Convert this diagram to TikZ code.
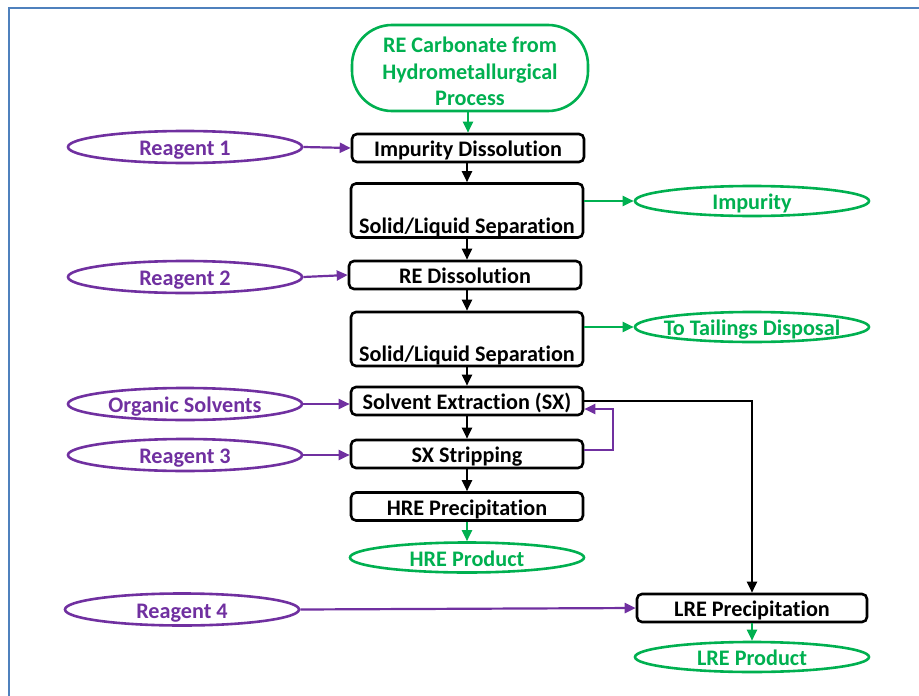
\documentclass[tikz,border=0pt]{standalone}
\usepackage{fontspec}
\setmainfont{Carlito}[Ligatures={NoCommon}]
\usetikzlibrary{shapes.geometric,arrows.meta}
\definecolor{pgreen}{HTML}{00B050}
\definecolor{ppurple}{HTML}{7030A0}
\definecolor{pframe}{HTML}{4F81BD}
% zero-width label so the ellipse keeps its own size
\newcommand{\ovaltext}[1]{\makebox[0pt]{#1}}
\tikzset{
  labelfont/.style={font=\fontsize{22.2}{26.5}\selectfont\bfseries},
  labeltext/.style={labelfont, inner sep=0pt, text height=18pt, text depth=1pt},
  procbox/.style={draw=black, line width=2.6pt, rounded corners=5pt, fill=white,
    minimum width=232pt, minimum height=28pt, labeltext, text=black},
  sepbox/.style={procbox, minimum height=54pt},
  inbox/.style={draw=ppurple, ellipse, line width=2.6pt, labeltext,
    minimum width=234pt, minimum height=32pt, text=ppurple},
  outbox/.style={inbox, draw=pgreen, text=pgreen, minimum height=30pt},
  flow/.style={line width=2.2pt, -{Triangle[length=11pt,width=10pt]}},
  kflow/.style={flow, draw=black},
  pflow/.style={flow, draw=ppurple},
  gflow/.style={flow, draw=pgreen},
}
\begin{document}
\begin{tikzpicture}[x=1pt, y=-1pt]
\useasboundingbox (0,0) rectangle (919,696);
% page frame
\draw[pframe, line width=1.5pt] (9,696) -- (9,8) -- (919,8);

% feed
\node[draw=pgreen, line width=2.6pt, rounded corners=40pt, minimum width=236pt,
  minimum height=86pt, inner sep=0pt] (feed) at (470,68) {};
\node[labelfont, text=pgreen, align=center] (feedt) at (470,71.5)
  {RE Carbonate from\\Hydrometallurgical\\Process};

% main process column
\node[procbox] (impdis) at (468,148) {Impurity Dissolution};
\node[sepbox]  (sep1)   at (467,210.5) {};
\node[labeltext] (sep1t) at (467,225) {Solid/Liquid Separation};
\node[procbox] (redis)  at (465,275) {RE Dissolution};
\node[sepbox]  (sep2)   at (467,339) {};
\node[labeltext] (sep2t) at (467,353) {Solid/Liquid Separation};
\node[procbox] (sx)     at (467,401) {Solvent Extraction (SX)};
\node[procbox] (strip)  at (467,454) {SX Stripping};
\node[procbox] (hre)    at (467,506.5) {HRE Precipitation};
\node[outbox]  (hrep)   at (467,557.5) {\ovaltext{HRE Product}};
\node[procbox, minimum width=230pt] (lre) at (752,608) {LRE Precipitation};
\node[outbox]  (lrep)   at (752,657) {\ovaltext{LRE Product}};

% reagents
\node[inbox] (r1)  at (185,147) {\ovaltext{Reagent 1}};
\node[inbox] (r2)  at (185,277) {\ovaltext{Reagent 2}};
\node[inbox] (org) at (185,404) {\ovaltext{Organic Solvents}};
\node[inbox] (r3)  at (185,455) {\ovaltext{Reagent 3}};
\node[inbox] (r4)  at (182,609.5) {\ovaltext{Reagent 4}};

% outputs
\node[outbox] (imp)  at (752,201) {\ovaltext{Impurity}};
\node[outbox] (tail) at (752,327) {\ovaltext{To Tailings Disposal}};

% main flow
\draw[gflow] (feed.south -| impdis) -- (impdis.north);
\draw[kflow] (impdis.south -| 467,0) -- (sep1.north -| 467,0);
\draw[kflow] (sep1.south -| 467,0) -- (redis.north -| 467,0);
\draw[kflow] (redis.south -| 467,0) -- (sep2.north -| 467,0);
\draw[kflow] (sep2.south) -- (sx.north);
\draw[kflow] (sx.south) -- (strip.north);
\draw[kflow] (strip.south) -- (hre.north);
\draw[gflow] (hre.south) -- (hrep.north);
\draw[kflow] (sx.east) -| (lre.north);
\draw[gflow] (lre.south) -- (lrep.north);

% reagent feeds
\draw[pflow] (r1.east) -- (impdis.west);
\draw[pflow] (r2.east) -- (redis.west);
\draw[pflow] (org.east) -- (sx.west |- org);
\draw[pflow] (r3.east) -- (strip.west |- r3);
\draw[pflow] (r4.east) -- (lre.west);

% stripped organic returned to extraction
\draw[pflow] (strip.east |- 0,450) -- (613,450) -- (613,409) -- (sx.east |- 0,409);

% rejects
\draw[gflow] (sep1.east |- imp) -- (imp.west);
\draw[gflow] (sep2.east |- tail) -- (tail.west);
\end{tikzpicture}
\end{document}
